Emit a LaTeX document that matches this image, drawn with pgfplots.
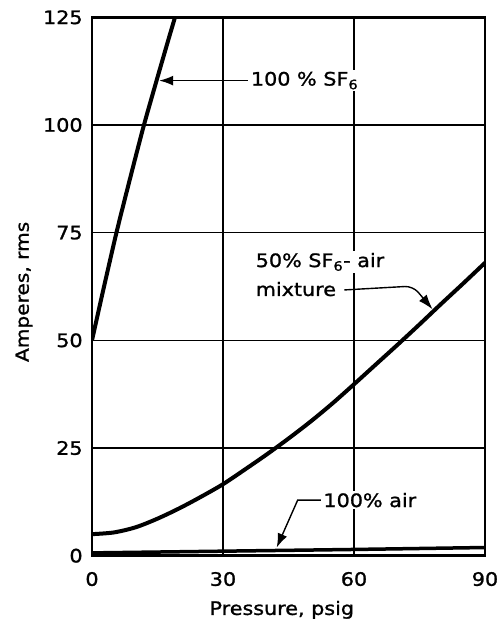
\documentclass[border=0pt]{standalone}
\usepackage{fontspec}
\setmainfont{DejaVu Sans}[FakeStretch=1.12, FakeBold=1.2]
\usepackage{pgfplots}
\pgfplotsset{compat=1.18}
\usetikzlibrary{arrows.meta}
\pgfplotstableread{
x y
0 50
2.2 60
4.45 70
5.6 75
6.82 80
9.33 90
11.9 100
14.7 110
17.55 120
19.0 125
19.7 128
}\sfsix
\pgfplotstableread{
x y
0 5.0
5 5.4
10 6.6
15 8.6
20 11.0
25 13.7
30 16.6
35 20.0
40 23.5
45 27.2
50 31.1
55 35.3
60 39.8
65 44.4
70 49.0
75 53.7
80 58.5
85 63.2
90 68.0
}\mixture
\pgfplotstableread{
x y
0 0.65
30 1.05
60 1.45
90 1.9
}\air
\begin{document}
\fontsize{18.5}{22}\selectfont
\begin{tikzpicture}
\path[use as bounding box] (-92pt,-65.3pt) rectangle (408pt,555.7pt);
\begin{axis}[
  at={(0,0)}, anchor=south west,
  scale only axis, width=393pt, height=538.4pt,
  xmin=0, xmax=90, ymin=0, ymax=125,
  xtick={0,30,60,90}, ytick={0,25,50,75,100,125},
  grid=major, major grid style={black, line width=1.2pt},
  axis line style={line width=2.6pt},
  major tick length=0pt,
  tick label style={font=\fontsize{18.5}{22}\selectfont},
  /pgf/number format/assume math mode=true,
  xticklabel style={yshift=-10pt},
  yticklabel style={xshift=-3pt},
  xlabel={Pressure, psig},
  ylabel={Amperes, rms},
  xlabel style={at={(axis description cs:0.483,-0.110)}, anchor=base, font=\fontsize{18.5}{22}\selectfont},
  ylabel style={at={(axis description cs:-0.173,0.49)}, anchor=center, font=\fontsize{18}{22}\selectfont},
  clip=true,
]
\addplot[black, line width=4pt, smooth] table {\sfsix};
\addplot[black, line width=4pt, smooth] table {\mixture};
\addplot[black, line width=3.5pt, smooth] table {\air};

\node[anchor=west, fill=white, inner sep=2pt] at (axis cs:35.9,110.3) {100 \% SF\textsubscript{6}};
\draw[line width=1.4pt, -{Latex[length=14pt,width=10pt]}] (axis cs:35.7,110.3) -- (axis cs:15.4,110.3);

\node[anchor=west, fill=white, inner sep=2pt] at (axis cs:37.0,68.2) {50\% SF\textsubscript{6}- air};
\node[anchor=west, fill=white, inner sep=2pt] at (axis cs:37.0,61.9) {mixture};
\draw[line width=1.4pt, -{Latex[length=15pt,width=10pt]}, rounded corners=8pt] (axis cs:57.8,61.7) -- (axis cs:73.5,62.6) -- (axis cs:78.0,57.2);

\node[anchor=west, fill=white, inner sep=2pt] at (axis cs:52.5,12.9) {100\% air};
\draw[line width=1.4pt, -{Latex[length=14pt,width=10pt]}] (axis cs:52.4,12.9) -- (axis cs:47.1,12.9) -- (axis cs:42.3,1.9);
\end{axis}
\end{tikzpicture}
\end{document}
